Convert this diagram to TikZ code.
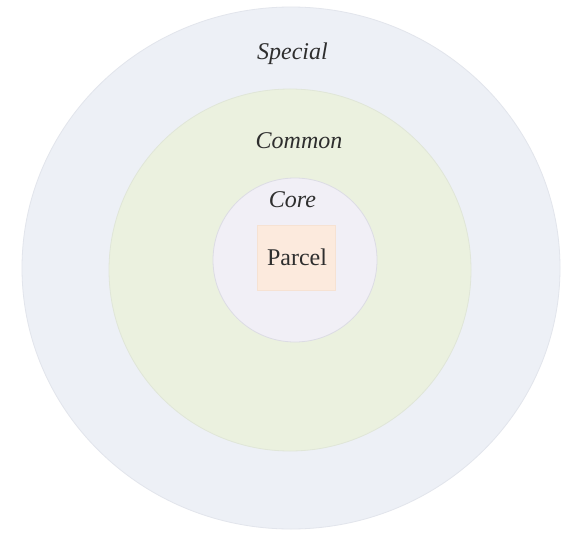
\documentclass[tikz,border=0pt]{standalone}
\usepackage{fontspec}
\setmainfont{Liberation Serif}
\usetikzlibrary{shapes.geometric}
\definecolor{outerfill}{HTML}{EDF0F6}
\definecolor{outeredge}{HTML}{E2E5EC}
\definecolor{midfill}{HTML}{EBF1DF}
\definecolor{midedge}{HTML}{E0E6D8}
\definecolor{innerfill}{HTML}{F1EFF6}
\definecolor{inneredge}{HTML}{DCDCE4}
\definecolor{parcelfill}{HTML}{FCEADD}
\definecolor{parceledge}{HTML}{F6E2D3}
\definecolor{txt}{HTML}{2E2E2E}
\tikzset{
  ring/.style={inner sep=0pt, line width=0.8pt},
  lbl/.style={font=\fontsize{24}{28}\selectfont\itshape, text=txt, inner sep=0pt, anchor=base},
  plbl/.style={font=\fontsize{24}{28}\selectfont, text=txt, inner sep=0pt, anchor=base}
}
\begin{document}
\begin{tikzpicture}[x=1pt,y=-1pt]
\fill[white] (0,0) rectangle (569,532);
\useasboundingbox (0,0) rectangle (569,532);
\node[ring, ellipse, fill=outerfill, draw=outeredge, minimum width=538pt, minimum height=522pt] (special) at (291,268) {};
\node[ring, circle, fill=midfill, draw=midedge, minimum size=362pt] (common) at (290,270) {};
\node[ring, circle, fill=innerfill, draw=inneredge, minimum size=164pt] (core) at (295,260) {};
\node[ring, rectangle, fill=parcelfill, draw=parceledge, line width=0.5pt, minimum width=78pt, minimum height=65pt] (parcelbox) at (296,257.5) {};
\node[lbl] (speciallbl) at (292.5,60) {Special};
\node[lbl] (commonlbl) at (299,148) {Common};
\node[lbl] (corelbl) at (292.5,207) {Core};
\node[plbl] (parcellbl) at (297,265) {Parcel};
\end{tikzpicture}
\end{document}
